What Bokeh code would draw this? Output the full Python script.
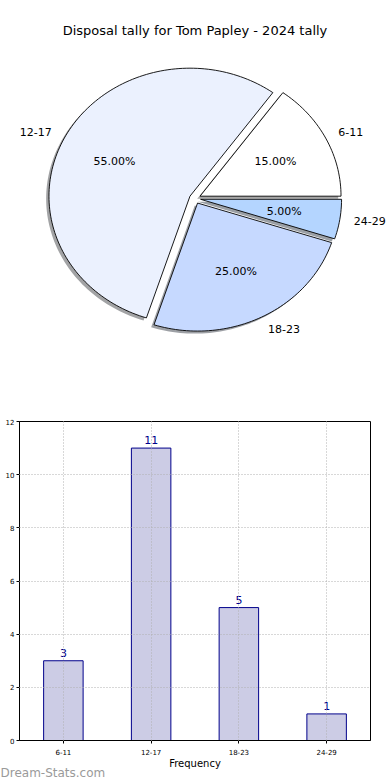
import math
from bokeh.plotting import figure
from bokeh.models import ColumnDataSource, Range1d, FactorRange, Label, Title
from bokeh.embed import file_html
from bokeh.resources import INLINE
from bokeh.core.properties import value

# ---- data ----
title = "Disposal tally for Tom Papley - 2024 tally"
categories = ["6-11", "12-17", "18-23", "24-29"]
counts = [3, 11, 5, 1]
pie_colors = ["#ffffff", "#ebf1fe", "#c6d9ff", "#b4d5ff"]
x_title = "Frequency"
y_title = "Disposal tally"
y_ticks = [0, 2, 4, 6, 8, 10, 12]
watermark = "Dream-Stats.com"

FONT = "DejaVu Sans"
W = 390
H1 = 400
H2 = 380
RX, RY = 141.0, 128.0
CX, CY = 194.5, 198.0  # canvas px of pie centre (from left / top)
EXPLODE = 0.04

# ---- pie ----
p1 = figure(width=W, height=H1, output_backend="svg", toolbar_location=None,
            x_axis_location=None, y_axis_location=None, min_border=0,
            x_range=Range1d(-CX / RX, (W - CX) / RX),
            y_range=Range1d(-(H1 - CY) / RY, CY / RY))
p1.grid.visible = False
p1.outline_line_color = None

total = float(sum(counts))
xs, ys, fills, falpha, lalpha = [], [], [], [], []
lbl_x, lbl_y, lbl_t, lbl_align = [], [], [], []
pct_x, pct_y, pct_t = [], [], []
start = 0.0


def darken(hexc, f=0.3):
    r, g, b = int(hexc[1:3], 16), int(hexc[3:5], 16), int(hexc[5:7], 16)
    return "#%02x%02x%02x" % (int(r * f), int(g * f), int(b * f))


for cat, v, col in zip(categories, counts, pie_colors):
    frac = v / total
    end = start + frac * 2 * math.pi
    mid = (start + end) / 2
    ox, oy = EXPLODE * math.cos(mid), EXPLODE * math.sin(mid)
    n = max(4, int(frac * 240))
    arc = [start + (end - start) * i / n for i in range(n + 1)]
    px = [ox] + [ox + math.cos(a) for a in arc]
    py = [oy] + [oy + math.sin(a) for a in arc]
    # shadow
    xs.append([x - 0.02 for x in px]); ys.append([y - 0.02 for y in py])
    fills.append(darken(col)); falpha.append(0.5); lalpha.append(0.0)
    # wedge
    xs.append(px); ys.append(py)
    fills.append(col); falpha.append(1.0); lalpha.append(1.0)
    lx, ly = ox + 1.1 * math.cos(mid), oy + 1.1 * math.sin(mid)
    lbl_x.append(lx); lbl_y.append(ly); lbl_t.append(cat)
    lbl_align.append("left" if lx > 0 else "right")
    pct_x.append(ox + 0.6 * math.cos(mid)); pct_y.append(oy + 0.6 * math.sin(mid))
    pct_t.append("%.2f%%" % (frac * 100))
    start = end

src = ColumnDataSource(dict(xs=xs, ys=ys, fill=fills, fa=falpha, la=lalpha))
p1.patches("xs", "ys", source=src, fill_color="fill", fill_alpha="fa",
           line_color="black", line_alpha="la", line_width=0.9)

p1.text(x=lbl_x, y=lbl_y, text=lbl_t, text_align=lbl_align,
        text_baseline="middle", text_font=value(FONT), text_font_size="11px",
        text_color="black")
p1.text(x=pct_x, y=pct_y, text=pct_t, text_align="center",
        text_baseline="middle", text_font=value(FONT), text_font_size="11px",
        text_color="black")

p1.add_layout(Label(x=CX, y=H1 - 30, x_units="screen", y_units="screen",
                    text=title, text_align="center", text_baseline="middle",
                    text_font=FONT, text_font_size="13px", text_color="black"))

# ---- bar chart ----
p2 = figure(width=W, height=H2, output_backend="svg", toolbar_location=None,
            x_range=FactorRange(*categories), y_range=Range1d(0, 12),
            min_border_left=19, min_border_right=20, min_border_top=21,
            min_border_bottom=40)
p2.x_range.range_padding = 0
p2.vbar(x=categories, top=counts, width=0.45, fill_color="#cccce5",
        line_color="#00008b", line_width=1)
p2.text(x=categories, y=counts, text=[str(c) for c in counts],
        text_align="center", text_baseline="bottom", y_offset=-4,
        text_font=value(FONT), text_font_size="11px", text_color="#00008b")

p2.outline_line_color = "black"
p2.outline_line_alpha = 1
for ax in (p2.xaxis[0], p2.yaxis[0]):
    ax.axis_line_color = "black"
    ax.major_tick_out = 3
    ax.major_tick_in = 0
    ax.minor_tick_out = 0
    ax.minor_tick_in = 0
    ax.major_label_text_font = FONT
    ax.major_label_text_font_size = "7px"
    ax.major_label_text_color = "black"
    ax.major_label_standoff = 2
p2.xaxis[0].major_label_standoff = 5
p2.yaxis[0].ticker = y_ticks
p2.xaxis[0].axis_label = x_title
p2.xaxis[0].axis_label_text_font = FONT
p2.xaxis[0].axis_label_text_font_size = "10px"
p2.xaxis[0].axis_label_text_font_style = "normal"
p2.xaxis[0].axis_label_standoff = 0
p2.xaxis[0].axis_label_text_color = "black"

for g in (p2.xgrid[0], p2.ygrid[0]):
    g.grid_line_color = "#b0b0b0"
    g.grid_line_dash = "1 2"
    g.grid_line_width = 1
    g.level = "overlay"

# y-axis title, mostly cut off at the left edge as in the original
p2.add_layout(Label(x=-16, y=(740 - 421) / 2, x_units="screen", y_units="screen",
                    text=y_title, angle=math.pi / 2, text_align="center",
                    text_baseline="bottom", text_font=FONT,
                    text_font_size="10px", text_color="black"))

p2.add_layout(Title(text=watermark, align="left", offset=-19, standoff=-15,
                    text_font=FONT, text_font_size="12px",
                    text_font_style="normal", text_color="#9a9a9a"), "below")

open("out.html", "w").write(file_html([p1, p2], INLINE))
